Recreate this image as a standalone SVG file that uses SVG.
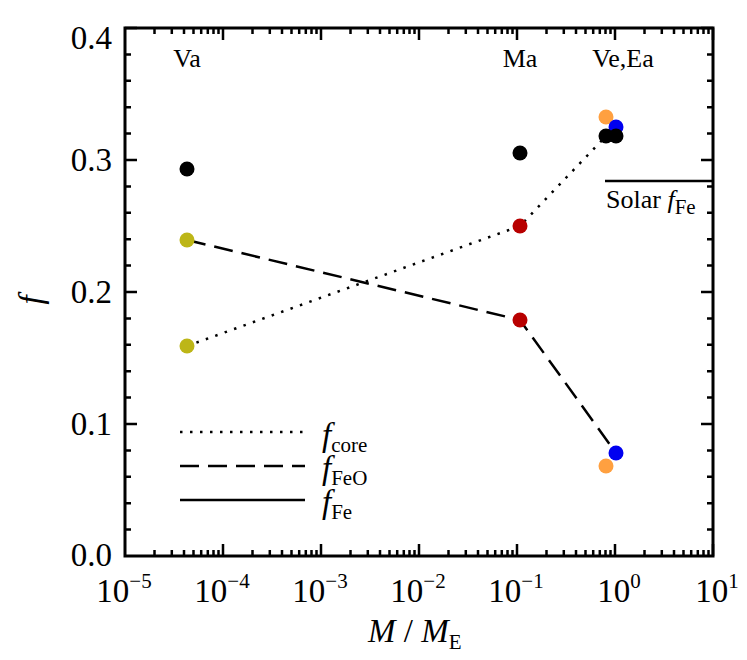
<svg xmlns="http://www.w3.org/2000/svg" xmlns:xlink="http://www.w3.org/1999/xlink" width="747" height="660" viewBox="0 0 747 660" font-family="'Liberation Serif','Times New Roman','DejaVu Serif',serif">
<style>
text{font-family:"Liberation Serif","Times New Roman","DejaVu Serif",serif;fill:#000}
.t{font-size:33px}
.s{font-size:21px}
.ax{stroke:#000;stroke-width:3;fill:none}
</style>
<defs>
<path id="xmin" d="M29.5 0v-6M46.8 0v-6M59 0v-6M68.5 0v-6M76.2 0v-6M82.8 0v-6M88.5 0v-6M93.5 0v-6M98 0v-12" stroke="#000" stroke-width="2.5"/>
<path id="ymin" d="M0 -26.4h6M0 -52.8h6M0 -79.2h6M0 -105.6h6M0 -132h12" stroke="#000" stroke-width="2.5"/>
</defs>
<rect width="747" height="660" fill="#fff"/>
<g id="axes">
<rect x="125" y="28" width="588" height="528" class="ax"/>
<g id="xticks-bottom">
<use xlink:href="#xmin" transform="translate(125,556)"/>
<use xlink:href="#xmin" transform="translate(223,556)"/>
<use xlink:href="#xmin" transform="translate(321,556)"/>
<use xlink:href="#xmin" transform="translate(419,556)"/>
<use xlink:href="#xmin" transform="translate(517,556)"/>
<use xlink:href="#xmin" transform="translate(615,556)"/>
</g>
<g id="xticks-top">
<use xlink:href="#xmin" transform="translate(125,28) scale(1,-1)"/>
<use xlink:href="#xmin" transform="translate(223,28) scale(1,-1)"/>
<use xlink:href="#xmin" transform="translate(321,28) scale(1,-1)"/>
<use xlink:href="#xmin" transform="translate(419,28) scale(1,-1)"/>
<use xlink:href="#xmin" transform="translate(517,28) scale(1,-1)"/>
<use xlink:href="#xmin" transform="translate(615,28) scale(1,-1)"/>
</g>
<g id="yticks">
<use xlink:href="#ymin" transform="translate(125,556)"/>
<use xlink:href="#ymin" transform="translate(125,424)"/>
<use xlink:href="#ymin" transform="translate(125,292)"/>
<use xlink:href="#ymin" transform="translate(125,160)"/>
<use xlink:href="#ymin" transform="translate(713,556) scale(-1,1)"/>
<use xlink:href="#ymin" transform="translate(713,424) scale(-1,1)"/>
<use xlink:href="#ymin" transform="translate(713,292) scale(-1,1)"/>
<use xlink:href="#ymin" transform="translate(713,160) scale(-1,1)"/>
</g>
<g id="xlabels" class="t" text-anchor="middle">
<text x="124" y="602">10<tspan class="s" dy="-14">−5</tspan></text>
<text x="222" y="602">10<tspan class="s" dy="-14">−4</tspan></text>
<text x="320" y="602">10<tspan class="s" dy="-14">−3</tspan></text>
<text x="418" y="602">10<tspan class="s" dy="-14">−2</tspan></text>
<text x="516" y="602">10<tspan class="s" dy="-14">−1</tspan></text>
<text x="619" y="602">10<tspan class="s" dy="-14">0</tspan></text>
<text x="717" y="602">10<tspan class="s" dy="-14">1</tspan></text>
</g>
<g id="ylabels" class="t" text-anchor="end">
<text x="112" y="566">0.0</text>
<text x="112" y="435">0.1</text>
<text x="112" y="303">0.2</text>
<text x="112" y="171">0.3</text>
<text x="112" y="49">0.4</text>
</g>
<text class="t" x="368" y="642" font-style="italic">M<tspan font-style="normal"> / </tspan>M<tspan class="s" font-style="normal" dy="7">E</tspan></text>
<text class="t" x="42" y="300" font-style="italic" transform="rotate(-90 42 300)" text-anchor="middle">f</text>
</g>
<g id="connectors" fill="none" stroke="#000" stroke-width="2.5">
<polyline points="187,346 520,226 606,136" stroke-dasharray="2.5,7.5"/>
<polyline points="187,240 520,320 616,453" stroke-dasharray="19,9"/>
<line x1="605" y1="181" x2="713" y2="181"/>
</g>
<g id="points">
<circle cx="187" cy="169" r="7.5" fill="#000"/>
<circle cx="187" cy="240" r="7.5" fill="#bdb617"/>
<circle cx="187" cy="346" r="7.5" fill="#bdb617"/>
<circle cx="520" cy="153" r="7.5" fill="#000"/>
<circle cx="520" cy="226" r="7.5" fill="#b80000"/>
<circle cx="520" cy="320" r="7.5" fill="#b80000"/>
<circle cx="606" cy="117" r="7.5" fill="#ffa040"/>
<circle cx="616" cy="127" r="7.5" fill="#0000f0"/>
<circle cx="606" cy="136" r="7.5" fill="#000"/>
<circle cx="616" cy="136" r="7.5" fill="#000"/>
<circle cx="616" cy="453" r="7.5" fill="#0000f0"/>
<circle cx="606" cy="466" r="7.5" fill="#ffa040"/>
</g>
<g id="labels" class="t">
<text x="187" y="67" text-anchor="middle" font-size="26">Va</text>
<text x="520" y="67" text-anchor="middle" font-size="26">Ma</text>
<text x="623" y="67" text-anchor="middle" font-size="26">Ve,Ea</text>
<text x="606" y="208" font-size="26">Solar <tspan font-style="italic">f</tspan><tspan class="s" font-size="17" dy="6">Fe</tspan></text>
</g>
<g id="legend" fill="none" stroke="#000" stroke-width="2.5">
<line x1="180" y1="432" x2="305" y2="432" stroke-dasharray="2.5,7.5"/>
<line x1="180" y1="466" x2="305" y2="466" stroke-dasharray="19,9"/>
<line x1="180" y1="500" x2="305" y2="500"/>
</g>
<g id="legend-text" class="t">
<text x="322" y="446" font-style="italic">f<tspan class="s" font-style="normal" dy="6">core</tspan></text>
<text x="322" y="479" font-style="italic">f<tspan class="s" font-style="normal" dy="6">FeO</tspan></text>
<text x="322" y="513" font-style="italic">f<tspan class="s" font-style="normal" dy="6">Fe</tspan></text>
</g>
</svg>
